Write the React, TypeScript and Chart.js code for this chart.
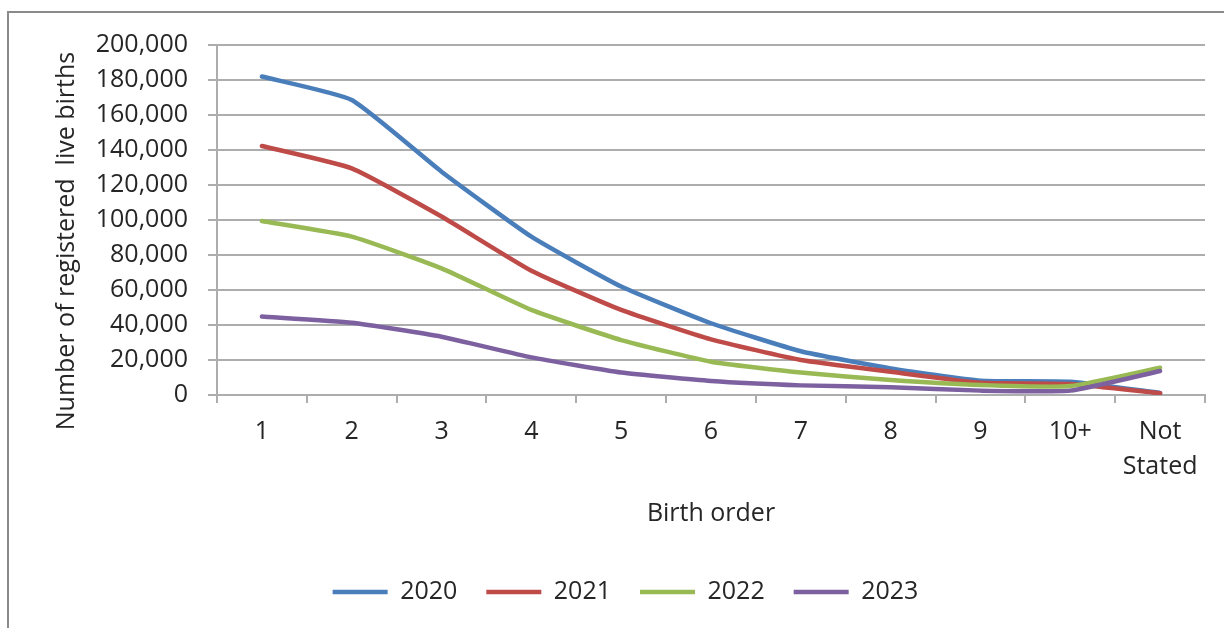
import { useEffect, useRef } from 'react';
import { Chart, registerables } from 'chart.js';

Chart.register(...registerables);

// Birth order categories on the x axis
const birthOrder: (string | string[])[] = ['1', '2', '3', '4', '5', '6', '7', '8', '9', '10+', ['Not', 'Stated']];

// Registered live births by birth order, one array per registration year
const years = ['2020', '2021', '2022', '2023'];
const births2020 = [182000, 168600, 127600, 90500, 62000, 41000, 25000, 15200, 8200, 7600, 1200];
const births2021 = [142300, 129500, 102000, 71000, 48600, 31800, 20000, 13300, 7000, 6300, 1000];
const births2022 = [99400, 90500, 72400, 48600, 31400, 19000, 12800, 8600, 5700, 5100, 15600];
const births2023 = [44800, 41300, 33300, 21500, 12800, 8000, 5500, 4400, 2500, 2500, 13700];

// Y axis ticks
const yMin = 0;
const yMax = 200000;
const yStep = 20000;

const yTitle = 'Number of registered  live births';
const xTitle = 'Birth order';

const seriesColors = ['#4A7EBB', '#BE4B48', '#98B954', '#7D60A0'];
const textColor = '#262626';
const gridColor = '#adadad';
const FONT = '"Open Sans", "Noto Sans", sans-serif';

// Outer frame and the rotated y-axis title
const decorPlugin = {
  id: 'decor',
  afterLayout(chart: any) {
    const lg = chart.legend;
    if (lg) {
      lg.left += 23;
      lg.right += 23;
    }
  },
  beforeDraw(chart: any) {
    const { ctx, width, height } = chart;
    ctx.save();
    ctx.strokeStyle = '#8a8a8a';
    ctx.lineWidth = 2;
    ctx.beginPath();
    ctx.moveTo(8, height);
    ctx.lineTo(8, 12);
    ctx.lineTo(width, 12);
    ctx.stroke();
    ctx.restore();
  },
  afterDraw(chart: any) {
    const { ctx } = chart;
    ctx.save();
    ctx.translate(67, 241);
    ctx.rotate(-Math.PI / 2);
    ctx.font = `25px ${FONT}`;
    ctx.fillStyle = textColor;
    ctx.textAlign = 'center';
    ctx.textBaseline = 'middle';
    ctx.fillText(yTitle, 0, 0);
    ctx.restore();
  },
};

export default function App() {
  const canvasRef = useRef<HTMLCanvasElement>(null);

  useEffect(() => {
    if (!canvasRef.current) return;
    const allSeries = [births2020, births2021, births2022, births2023];
    const chart = new Chart(canvasRef.current, {
      type: 'line',
      data: {
        labels: birthOrder,
        datasets: years.map((year, i) => ({
          label: year,
          data: allSeries[i],
          borderColor: seriesColors[i],
          backgroundColor: seriesColors[i],
          borderWidth: 4.5,
          borderCapStyle: 'round' as const,
          borderJoinStyle: 'round' as const,
          pointRadius: 0,
          pointHoverRadius: 0,
          tension: 0.15,
          fill: false,
          // later years are painted on top
          order: years.length - i,
        })),
      },
      options: {
        responsive: true,
        maintainAspectRatio: false,
        animation: false,
        layout: { padding: { top: 45, right: 19, bottom: 13.5, left: 0 } },
        font: { family: FONT },
        plugins: {
          tooltip: { enabled: false },
          legend: {
            position: 'bottom',
            labels: {
              usePointStyle: true,
              pointStyle: 'line',
              pointStyleWidth: 55,
              padding: 29,
              color: textColor,
              font: { family: FONT, size: 25 },
              sort: (a: any, b: any) => a.datasetIndex - b.datasetIndex,
            },
          },
        },
        scales: {
          x: {
            type: 'category',
            offset: true,
            grid: {
              offset: true,
              drawOnChartArea: false,
              drawTicks: true,
              tickLength: 8,
              color: gridColor,
              lineWidth: 2,
            },
            border: { color: gridColor, width: 2 },
            ticks: {
              color: textColor,
              font: { family: FONT, size: 25, lineHeight: 1.4 },
              padding: 11.5,
              maxRotation: 0,
              autoSkip: false,
            },
            title: {
              display: true,
              text: xTitle,
              color: textColor,
              font: { family: FONT, size: 25, lineHeight: 1.2 },
              padding: { top: 0, bottom: 21.5 },
            },
            afterFit(scale: any) {
              scale.height = 155.5;
            },
          },
          y: {
            min: yMin,
            max: yMax,
            grid: {
              color: gridColor,
              lineWidth: 2,
              drawTicks: true,
              tickLength: 9,
            },
            border: { color: gridColor, width: 2 },
            ticks: {
              stepSize: yStep,
              padding: 20,
              color: textColor,
              font: { family: FONT, size: 25, lineHeight: 1.2 },
              callback: (v: any) => Number(v).toLocaleString('en-US'),
            },
            afterFit(scale: any) {
              scale.width = 217;
            },
          },
        },
      },
      plugins: [decorPlugin],
    });
    return () => chart.destroy();
  }, []);

  return (
    <div style={{ position: 'fixed', left: 0, top: 0, width: 1224, height: 628, background: '#ffffff' }}>
      <canvas ref={canvasRef} />
    </div>
  );
}
